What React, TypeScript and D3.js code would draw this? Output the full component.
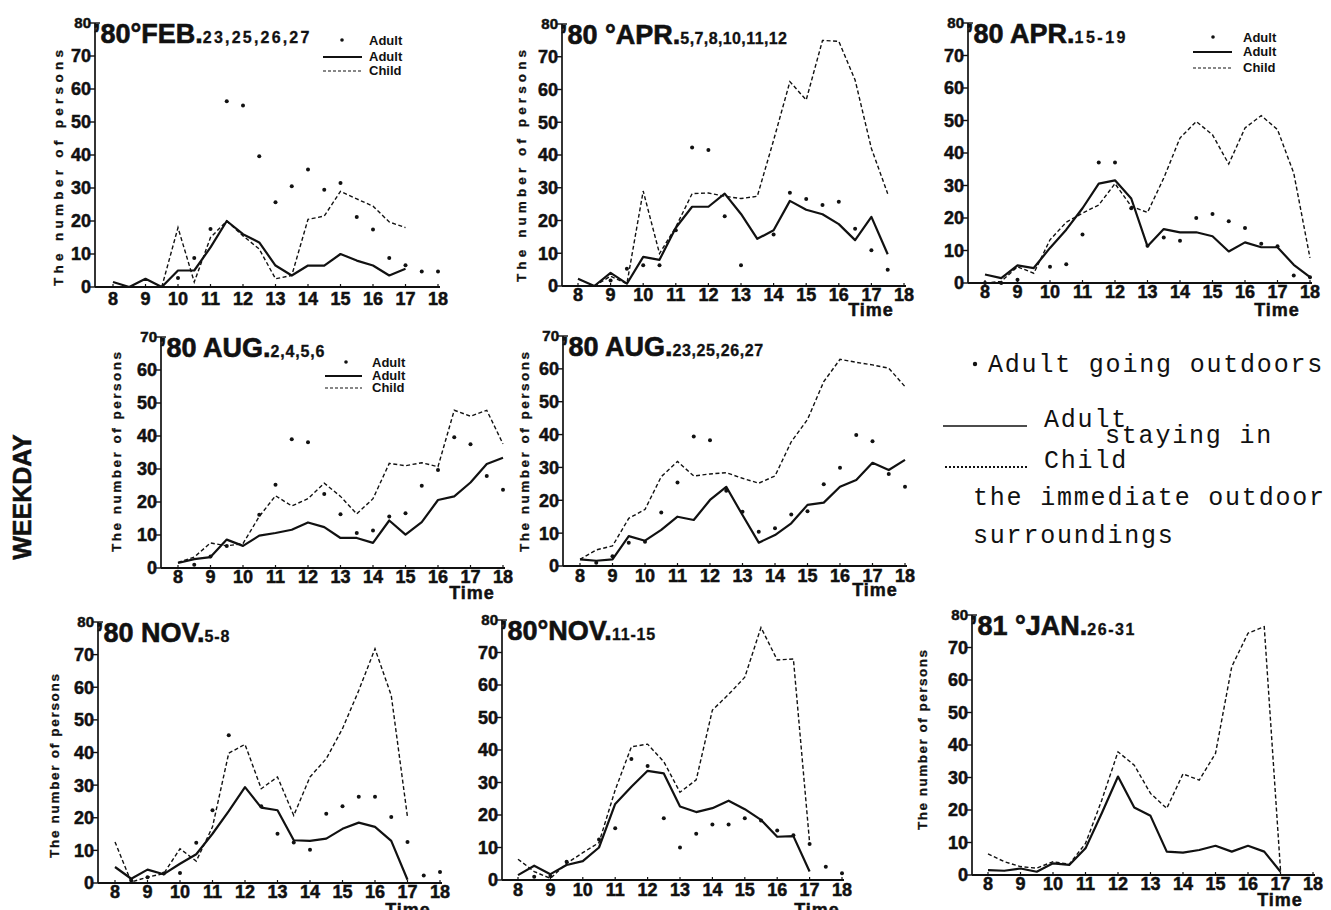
import React from 'react';
import * as d3 from 'd3';

// ---- categories / ticks ----
const halfHours = [8, 8.5, 9, 9.5, 10, 10.5, 11, 11.5, 12, 12.5, 13, 13.5, 14, 14.5, 15, 15.5, 16, 16.5, 17, 17.5, 18];
const hourTicks = [8, 9, 10, 11, 12, 13, 14, 15, 16, 17, 18];
const yTicks80 = [0, 10, 20, 30, 40, 50, 60, 70, 80];
const yTicks70 = [0, 10, 20, 30, 40, 50, 60, 70];

// ---- series (values at halfHours; null = no mark) ----
// '80 FEB.23,25,26,27
const febStay = [1.5, 0, 2.5, 0, 5, 5, 12, 20, 16, 13.5, 6.5, 3.5, 6.5, 6.5, 10, 8, 6.5, 3.5, 5.5, null, null];
const febChild = [null, null, null, 0, 18, 1.5, 15, 20, 15.5, 11.5, 2.5, 3.5, 20.5, 21.5, 29, 26.7, 24.5, 19.7, 18, null, null];
const febOut = [null, null, null, null, 2.7, 8.8, 17.6, 56.3, 55, 39.6, 25.7, 30.5, 35.6, 29.5, 31.5, 21.2, 17.4, 8.8, 6.6, 4.7, 4.7];
// '80 APR.5,7,8,10,11,12
const apr1Stay = [2.2, 0, 4, 0.7, 8.9, 8, 17.8, 24.2, 24.2, 28.2, 22, 14.4, 17, 26, 23.3, 21.9, 18.9, 14, 21.1, 9.7, null];
const apr1Child = [null, 0, 3, 0.7, 29, 9.9, 18, 28.2, 28.4, 27.4, 26.7, 27.4, 44.5, 62.4, 56.8, 75, 74.7, 62.9, 42, 28.2, null];
const apr1Out = [null, null, 1.7, 5.3, 6.3, 6.3, 17, 42.3, 41.5, 21.3, 6.3, null, 15.7, 28.5, 26.6, 24.7, 25.7, 17.5, 10.9, 5, null];
// '80 APR.15-19
const apr2Stay = [2.6, 1.5, 5.4, 4.6, 10.8, 16.4, 23, 30.6, 31.6, 26, 11.3, 16.6, 15.6, 15.6, 14.4, 9.7, 12.5, 11, 11, 5.6, 1.8];
const apr2Child = [0, 0.5, 5, 3, 13.3, 18.7, 21.5, 24, 30.6, 23.6, 21.7, 32.3, 44.6, 49.7, 45.6, 36.6, 47.7, 51.5, 47.2, 33.8, 7.7];
const apr2Out = [0, 0, 1, null, 5, 5.8, 14.9, 37.1, 37.1, 23, 11.5, 14, 13, 20, 21.2, 19, 16.9, 12.1, 11.3, 2.3, 1.8];
// '80 AUG.2,4,5,6
const aug1Stay = [1.5, 2.7, 3.3, 8.6, 6.7, 9.8, 10.6, 11.6, 13.8, 12.4, 9.1, 9.1, 7.6, 14.4, 10.1, 13.9, 20.6, 21.7, 25.9, 31.5, 33.4];
const aug1Child = [1.7, 3.3, 7.6, 6.7, 7.4, 15.6, 21.9, 18.8, 21, 25.7, 21.7, 16.4, 21, 31.7, 31, 31.9, 30.7, 47.8, 46, 47.8, 37.6];
const aug1Out = [null, 1, 3.5, 6.7, null, 16.1, 25.2, 39, 38.1, 22.4, 16.3, 10.6, 11.4, 15.6, 16.6, 24.9, 29.7, 39.6, 37.5, 27.9, 23.7];
// '80 AUG.23,25,26,27
const aug2Stay = [2, 1.6, 2, 9.1, 7.7, 11, 15, 14, 20.1, 24.1, 15.5, 7.1, 9.4, 13, 18.6, 19.3, 24.1, 26.2, 31.4, 29.2, 32.3];
const aug2Child = [2, 4.9, 6.1, 14.5, 17.2, 27.2, 31.8, 27.4, 28, 28.4, 26.7, 25.2, 27.4, 37.8, 44.6, 56.1, 62.9, 62, 61.2, 60.2, 54.6];
const aug2Out = [null, 1, 3, 7.1, 7.4, 16.3, 25.4, 39.4, 38.3, 22.9, 16.5, 10.4, 11.5, 15.7, 16.7, 24.9, 29.9, 39.9, 38, 28, 24.1];
// '80 NOV.5-8
const nov1Stay = [4.9, 1.3, 4.1, 2.7, 5.9, 8.8, 15.1, 22, 29.4, 23.1, 22.3, 13.1, 12.9, 13.6, 16.6, 18.5, 17.2, 12.9, 1, null, null];
const nov1Child = [12.6, 0.3, 1.8, 2.9, 10.5, 6.7, 17.2, 39.8, 42.5, 28.9, 32.5, 20.7, 32.5, 38.1, 47.3, 59, 71.8, 57.5, 20.2, null, null];
const nov1Out = [null, 0.8, 1.8, 2.9, 3.1, 12.3, 22.3, 45.3, null, 23.5, 15.1, 12.4, 10.2, 21.2, 23.5, 26.4, 26.4, 20.2, 12.6, 2.3, 3.4];
// '80 NOV.11-15
const nov2Stay = [1.5, 4.4, 1.8, 4.6, 5.8, 10, 23.4, 28.7, 33.6, 32.8, 22.6, 20.9, 22.1, 24.4, 21.8, 18.5, 13.3, 13.5, 2.6, null, null];
const nov2Child = [6.4, 2.6, 0.5, 5.1, 8.4, 11.5, 27.7, 41, 41.8, 36.4, 27, 30.8, 52.3, 57.1, 62.4, 77.7, 67.7, 68, 11.5, null, null];
const nov2Out = [null, 1, 1.2, 5.6, null, 12.5, 15.9, 37.2, 35.1, 19, 10, 14.2, 17.1, 17.1, 19, 18.3, 15.2, 13.8, 11.1, 4.1, 2.1];
// '81 JAN.26-31
const janStay = [1.5, 1.3, 2, 1, 3.6, 3.1, 8.2, 19, 30.3, 20.8, 18.2, 7.2, 6.9, 7.7, 9, 7.2, 9, 7.2, 1, null, null];
const janChild = [6.5, 4.1, 2.6, 2.1, 4.1, 3.3, 9.7, 23, 37.9, 33.8, 25.1, 20.5, 31.1, 29.2, 37.4, 64.1, 74.4, 76.4, 1.5, null, null];
const janOut: (number | null)[] = [];

// ---- texts ----
const titlesMain = ["’80°FEB.", "’80 °APR.", "’80 APR.", "’80 AUG.", "’80 AUG.", "’80 NOV.", "’80°NOV.", "’81 °JAN."];
const titlesSub = ["23,25,26,27", "5,7,8,10,11,12", "15-19", "2,4,5,6", "23,25,26,27", "5-8", "11-15", "26-31"];
const yLabelText = "The number of persons";
const legendBig = ["Adult going outdoors", "Adult", "staying in", "Child", "the immediate outdoor", "surroundings"];

type Cfg = {
  ax: number; y0: number; yTop: number; x8: number; x18: number; ymax: number;
  subSpacing: number; lab: number;
  yLab?: { x: number; cy: number; len: number };
  legend?: { lx1: number; lx2: number; dotX: number; tx: number; r0: number; r1: number; r2: number };
  time?: { x: number; y: number };
};

const layouts: Cfg[] = [
  { ax: 95, y0: 287, yTop: 23, x8: 113, x18: 438, ymax: 80, subSpacing: 2.2, lab: 18,
    yLab: { x: 63, cy: 168, len: 236 },
    legend: { lx1: 323, lx2: 362, dotX: 342, tx: 369, r0: 40, r1: 57, r2: 71 } },
  { ax: 562, y0: 286, yTop: 24, x8: 578, x18: 904, ymax: 80, subSpacing: 0.4, lab: 15,
    yLab: { x: 526, cy: 166, len: 232 }, time: { x: 871, y: 316 } },
  { ax: 968, y0: 283, yTop: 23, x8: 985, x18: 1310, ymax: 80, subSpacing: 2.5, lab: 15,
    legend: { lx1: 1193, lx2: 1232, dotX: 1213, tx: 1243, r0: 37, r1: 52, r2: 68 }, time: { x: 1277, y: 316 } },
  { ax: 161, y0: 568, yTop: 337, x8: 178, x18: 503, ymax: 70, subSpacing: 0.8, lab: 15,
    yLab: { x: 121, cy: 452, len: 200 },
    legend: { lx1: 325, lx2: 362, dotX: 346, tx: 372, r0: 362, r1: 376, r2: 388 }, time: { x: 472, y: 599 } },
  { ax: 563, y0: 566, yTop: 336, x8: 580, x18: 905, ymax: 70, subSpacing: 0.6, lab: 16,
    yLab: { x: 529, cy: 452, len: 200 }, time: { x: 875, y: 596 } },
  { ax: 98, y0: 883, yTop: 622, x8: 115, x18: 440, ymax: 80, subSpacing: 0.8, lab: 15,
    yLab: { x: 59, cy: 766, len: 184 }, time: { x: 408, y: 916 } },
  { ax: 502, y0: 880, yTop: 620, x8: 518, x18: 842, ymax: 80, subSpacing: 0.8, lab: 16,
    time: { x: 817, y: 916 } },
  { ax: 972, y0: 875, yTop: 615, x8: 988, x18: 1313, ymax: 80, subSpacing: 1.5, lab: 15,
    yLab: { x: 927, cy: 740, len: 180 }, time: { x: 1280, y: 906 } },
];

const stays = [febStay, apr1Stay, apr2Stay, aug1Stay, aug2Stay, nov1Stay, nov2Stay, janStay];
const childs = [febChild, apr1Child, apr2Child, aug1Child, aug2Child, nov1Child, nov2Child, janChild];
const outs = [febOut, apr1Out, apr2Out, aug1Out, aug2Out, nov1Out, nov2Out, janOut];

const SANS = "'Liberation Sans', Arial, Helvetica, sans-serif";
const MONO = "'Liberation Mono', 'DejaVu Sans Mono', monospace";
const INK = '#111';

function Panel({ i }: { i: number }) {
  const c = layouts[i];
  const x = d3.scaleLinear().domain([8, 18]).range([c.x8, c.x18]);
  const y = d3.scaleLinear().domain([0, c.ymax]).range([c.y0, c.yTop]);
  const ticks = c.ymax === 80 ? yTicks80 : yTicks70;
  const pts = (vals: (number | null)[]) => halfHours.map((t, k) => [t, vals[k] ?? null] as [number, number | null]);
  const line = d3.line<[number, number | null]>()
    .defined(d => d[1] != null)
    .x(d => x(d[0]))
    .y(d => y(d[1] as number));
  const stay = pts(stays[i]);
  const child = pts(childs[i]);
  const out = pts(outs[i]).filter(d => d[1] != null);
  return (
    <g>
      {/* axes */}
      <line x1={c.ax} x2={c.ax} y1={c.y0} y2={c.yTop} stroke={INK} strokeWidth={1.7} />
      <line x1={c.ax} x2={x(18) + 2} y1={c.y0} y2={c.y0} stroke={INK} strokeWidth={2.2} />
      <line x1={c.ax} x2={c.ax + 5} y1={c.yTop} y2={c.yTop} stroke={INK} strokeWidth={1.4} />
      {ticks.map(t => (
        <g key={'y' + t}>
          <line x1={c.ax - 5} x2={c.ax} y1={y(t)} y2={y(t)} stroke={INK} strokeWidth={1.4} />
          <text x={c.ax - 4} y={y(t)} dy="0.36em" textAnchor="end" fontFamily={SANS} fontWeight="bold"
            fontSize={t === c.ymax ? 15 : 18} fill={INK} stroke={INK} strokeWidth={0.5}>{t}</text>
        </g>
      ))}
      {hourTicks.map(h => (
        <g key={'x' + h}>
          <line x1={x(h)} x2={x(h)} y1={c.y0} y2={c.y0 - 3} stroke={INK} strokeWidth={1.2} />
          <text x={x(h)} y={c.y0 + c.lab} textAnchor="middle" fontFamily={SANS} fontWeight="bold" fontSize={18}
            fill={INK} stroke={INK} strokeWidth={0.5}>{h}</text>
        </g>
      ))}
      {/* title */}
      <text x={c.ax - 2} y={c.yTop + 20} fontFamily={SANS} fontWeight="bold" fill={INK} stroke={INK} strokeWidth={0.6}>
        <tspan fontSize={27}>{titlesMain[i]}</tspan>
        <tspan fontSize={16} letterSpacing={c.subSpacing} strokeWidth={0.3}>{titlesSub[i]}</tspan>
      </text>
      {c.yLab && (
        <text transform={`translate(${c.yLab.x},${c.yLab.cy}) rotate(-90)`} textAnchor="middle"
          fontFamily={SANS} fontWeight="bold" fontSize={13.5} fill={INK} stroke={INK} strokeWidth={0.3}
          textLength={c.yLab.len} lengthAdjust="spacing">{yLabelText}</text>
      )}
      {c.time && (
        <text x={c.time.x} y={c.time.y} textAnchor="middle" fontFamily={SANS} fontWeight="bold" fontSize={18}
          letterSpacing={1} fill={INK} stroke={INK} strokeWidth={0.5}>Time</text>
      )}
      {/* series */}
      <path d={line(child) || ''} fill="none" stroke={INK} strokeWidth={1.4} strokeDasharray="4 2.5" />
      <path d={line(stay) || ''} fill="none" stroke={INK} strokeWidth={2.2} strokeLinejoin="round" />
      {out.map((d, k) => (
        <circle key={k} cx={x(d[0])} cy={y(d[1] as number)} r={2} fill={INK} />
      ))}
      {c.legend && (
        <g fontFamily={SANS} fontWeight="bold" fontSize={13} fill={INK}>
          <circle cx={c.legend.dotX} cy={c.legend.r0} r={1.8} fill={INK} />
          <text x={c.legend.tx} y={c.legend.r0 + 5}>Adult</text>
          <line x1={c.legend.lx1} x2={c.legend.lx2} y1={c.legend.r1} y2={c.legend.r1} stroke={INK} strokeWidth={1.8} />
          <text x={c.legend.tx} y={c.legend.r1 + 4}>Adult</text>
          <line x1={c.legend.lx1} x2={c.legend.lx2} y1={c.legend.r2} y2={c.legend.r2} stroke={INK} strokeWidth={1.2} strokeDasharray="3 2" />
          <text x={c.legend.tx} y={c.legend.r2 + 4}>Child</text>
        </g>
      )}
    </g>
  );
}

export default function App() {
  return (
    <svg width={1331} height={910} style={{ position: 'absolute', left: 0, top: 0, display: 'block', background: '#fff' }}>
      <rect width={1331} height={910} fill="#fff" />
      <text transform="translate(31,497) rotate(-90)" textAnchor="middle" fontFamily={SANS} fontWeight="bold"
        fontSize={25} fill={INK} stroke={INK} strokeWidth={0.5}>WEEKDAY</text>
      {layouts.map((_, i) => <Panel key={i} i={i} />)}
      {/* big legend */}
      <g fontFamily={MONO} fontSize={25} letterSpacing={1.8} fill={INK}>
        <circle cx={975} cy={364} r={2.2} fill={INK} />
        <text x={988} y={372}>{legendBig[0]}</text>
        <line x1={943} x2={1027} y1={426} y2={426} stroke={INK} strokeWidth={1.6} />
        <text x={1044} y={427}>{legendBig[1]}</text>
        <text x={1105} y={443}>{legendBig[2]}</text>
        <line x1={945} x2={1027} y1={467} y2={467} stroke={INK} strokeWidth={2.2} strokeDasharray="2 2" />
        <text x={1044} y={468}>{legendBig[3]}</text>
        <text x={973} y={505}>{legendBig[4]}</text>
        <text x={973} y={543}>{legendBig[5]}</text>
      </g>
    </svg>
  );
}
